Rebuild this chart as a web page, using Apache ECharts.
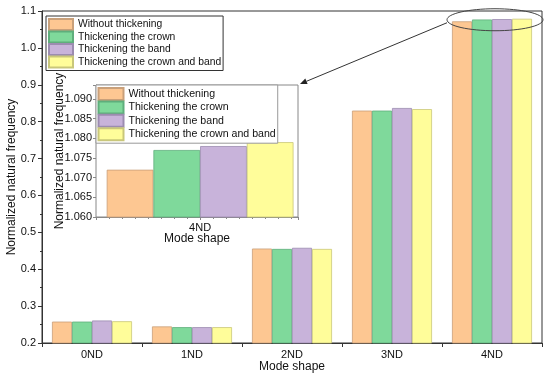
<!DOCTYPE html>
<html><head><meta charset="utf-8">
<script src="https://cdn.jsdelivr.net/npm/echarts@6/dist/echarts.min.js"></script>
<style>html,body{margin:0;padding:0;background:#fff}#c{width:550px;height:376px}</style>
</head><body><div id="c"></div>
<script>
const categories = ['0ND', '1ND', '2ND', '3ND', '4ND'];
const seriesNames = ['Without thickening', 'Thickening the crown', 'Thickening the band', 'Thickening the crown and band'];
const withoutThickening = [0.258, 0.245, 0.456, 0.830, 1.072];
const thickeningCrown = [0.258, 0.243, 0.455, 0.830, 1.077];
const thickeningBand = [0.261, 0.243, 0.458, 0.837, 1.078];
const thickeningCrownBand = [0.259, 0.243, 0.455, 0.834, 1.079];
const insetCategory = '4ND';
const fills = ['#FDC792', '#7FD99B', '#C8B3DA', '#FFFD9A'];
const borders = ['#C9A07A', '#5FAE7C', '#9C8CB0', '#C9C77A'];

const allSeries = [withoutThickening, thickeningCrown, thickeningBand, thickeningCrownBand];
const insetIdx = categories.indexOf(insetCategory);
const FONT = "'Liberation Sans', Arial, sans-serif";

const chart = echarts.init(document.getElementById('c'), null, {renderer: 'canvas'});

const mainSeries = allSeries.map((d, i) => ({
  name: seriesNames[i], type: 'bar', xAxisIndex: 0, yAxisIndex: 0,
  data: d, barWidth: 20, barGap: '0%',
  itemStyle: {color: fills[i], borderColor: borders[i], borderWidth: 0.8},
  z: 2
}));
const insetSeries = allSeries.map((d, i) => ({
  name: seriesNames[i], type: 'bar', xAxisIndex: 1, yAxisIndex: 1,
  data: [[1, d[insetIdx]]], barWidth: 46.7, barGap: '0%',
  itemStyle: {color: fills[i], borderColor: borders[i], borderWidth: 0.8},
  z: 5
}));

const legendBase = {
  orient: 'vertical', icon: 'rect', data: seriesNames, selectedMode: false,
  backgroundColor: '#fff', z: 10
};

chart.setOption({
  animation: false,
  textStyle: {fontFamily: FONT},
  grid: [
    {left: 42, right: 8, top: 11, bottom: 33, show: true, borderColor: '#333', borderWidth: 1,
     backgroundColor: 'transparent', outerBoundsMode: 'none', containLabel: false},
    {left: 96, right: 252, top: 85, bottom: 159, show: true, borderColor: '#888', borderWidth: 1,
     backgroundColor: '#fff', z: 4, outerBoundsMode: 'none', containLabel: false}
  ],
  legend: [
    Object.assign({}, legendBase, {
      left: 46, top: 16, itemWidth: 24, itemHeight: 11, itemGap: -0.5,
      padding: [2, 2, 2, 2], borderColor: '#333', borderWidth: 1,
      textStyle: {fontSize: 10.3, color: '#111', fontFamily: FONT}
    }),
    Object.assign({}, legendBase, {
      left: 96, top: 85, itemWidth: 25, itemHeight: 12, itemGap: -0.6,
      padding: [2, 2, 2, 1.5], borderColor: '#999', borderWidth: 1,
      textStyle: {fontSize: 10.6, color: '#111', fontFamily: FONT}
    })
  ],
  xAxis: [
    {
      type: 'category', gridIndex: 0, data: categories, boundaryGap: true,
      name: 'Mode shape', nameLocation: 'middle', nameGap: 17.5, nameMoveOverlap: false,
      nameTextStyle: {fontSize: 12, color: '#111', fontFamily: FONT},
      axisLine: {lineStyle: {color: '#333', width: 1}},
      axisTick: {show: true, length: 4, lineStyle: {color: '#333'}},
      axisLabel: {fontSize: 11, color: '#111', margin: 6, fontFamily: FONT},
      splitLine: {show: false}
    },
    {
      type: 'value', gridIndex: 1, min: 0.5, max: 1.47, interval: 0.5,
      name: 'Mode shape', nameLocation: 'middle', nameGap: 16, nameMoveOverlap: false,
      nameTextStyle: {fontSize: 12, color: '#111', fontFamily: FONT},
      axisLine: {onZero: false, lineStyle: {color: '#888', width: 1}},
      axisTick: {show: true, length: 3, lineStyle: {color: '#888'}},
      minorTick: {show: true, splitNumber: 8, length: 2, lineStyle: {color: '#888'}},
      axisLabel: {fontSize: 11, color: '#111', margin: 5, fontFamily: FONT,
        customValues: [1], formatter: () => insetCategory},
      splitLine: {show: false}, minorSplitLine: {show: false}
    }
  ],
  yAxis: [
    {
      type: 'value', gridIndex: 0, min: 0.2, max: 1.1, interval: 0.1,
      name: 'Normalized natural frequency', nameLocation: 'middle', nameGap: 24, nameMoveOverlap: false,
      nameTextStyle: {fontSize: 12, color: '#111', fontFamily: FONT},
      axisLine: {show: true, lineStyle: {color: '#333', width: 1}},
      axisTick: {show: true, length: 4, lineStyle: {color: '#333'}},
      minorTick: {show: true, splitNumber: 2, length: 2, lineStyle: {color: '#333'}},
      axisLabel: {fontSize: 11, color: '#111', margin: 6, fontFamily: FONT,
        formatter: v => v.toFixed(1)},
      splitLine: {show: false}, minorSplitLine: {show: false}
    },
    {
      type: 'value', gridIndex: 1, min: 1.06, max: 1.0935, interval: 0.005,
      name: 'Normalized natural frequency', nameLocation: 'middle', nameGap: 30.5, nameMoveOverlap: false,
      nameTextStyle: {fontSize: 12, color: '#111', fontFamily: FONT},
      axisLine: {show: true, lineStyle: {color: '#888', width: 1}},
      axisTick: {show: true, length: 3, lineStyle: {color: '#888'}},
      axisLabel: {fontSize: 11, color: '#111', margin: 4, fontFamily: FONT,
        formatter: v => (Math.abs(v / 0.005 - Math.round(v / 0.005)) < 1e-6 ? v.toFixed(3) : '')},
      splitLine: {show: false}
    }
  ],
  series: mainSeries.concat(insetSeries)
});

// Annotation: ellipse around the 4ND group and arrow to the inset
const lastCat = categories[categories.length - 1];
const prevCat = categories[categories.length - 2];
const maxTop = Math.max.apply(null, allSeries.map(d => d[d.length - 1]));
const pC = chart.convertToPixel({xAxisIndex: 0, yAxisIndex: 0}, [lastCat, maxTop]);
const pP = chart.convertToPixel({xAxisIndex: 0, yAxisIndex: 0}, [prevCat, maxTop]);
const band = pC[0] - pP[0];
const cx = pC[0] + 3, cy = pC[1] + 1, rx = band * 0.48, ry = 11;
const insetCorner = chart.convertToPixel({xAxisIndex: 1, yAxisIndex: 1}, [1.47, 1.0935]);
const sx = cx - rx, sy = cy + 3;
const ex = insetCorner[0] + 2, ey = insetCorner[1] - 1;
const dx = ex - sx, dy = ey - sy, L = Math.sqrt(dx * dx + dy * dy);
const ux = dx / L, uy = dy / L, hl = 7, hw = 3;
const bx = ex - ux * hl, by = ey - uy * hl;
chart.setOption({
  graphic: [
    {type: 'ellipse', shape: {cx: cx, cy: cy, rx: rx, ry: ry}, style: {fill: 'none', stroke: '#444', lineWidth: 1}, z: 20},
    {type: 'line', shape: {x1: sx, y1: sy, x2: bx, y2: by}, style: {stroke: '#333', lineWidth: 1}, z: 20},
    {type: 'polygon', shape: {points: [[ex, ey], [bx - uy * hw, by + ux * hw], [bx + uy * hw, by - ux * hw]]}, style: {fill: '#222'}, z: 20}
  ]
});
</script></body></html>
